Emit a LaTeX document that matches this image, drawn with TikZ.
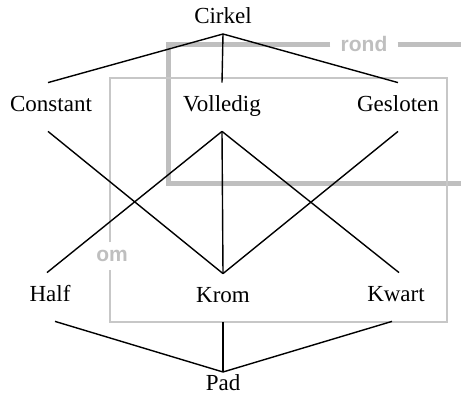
\documentclass[tikz,border=0pt]{standalone}
\usepackage{fontspec}
\setmainfont{Liberation Serif}
\newfontfamily\tagfont{Liberation Sans}
\begin{document}
\begin{tikzpicture}[x=0.5pt,y=-0.5pt]
    \tikzstyle{term}=[font=\fontsize{11.5}{13}\selectfont, inner sep=0pt, text height=14.5pt, text depth=9.5pt, anchor=base]
    \tikzstyle{root}=[font=\fontsize{11.5}{13}\selectfont, inner sep=5pt]
    \tikzstyle{tag}=[font=\tagfont\bfseries\fontsize{10.5}{12}\selectfont, text=black!25]
    \tikzstyle{rondline}=[line width=2.5pt, draw=black!25]
    \tikzstyle{omline}=[line width=1pt, draw=black!22]
    \tikzstyle{edge}=[line width=0.7pt]
    \useasboundingbox (0,0) rectangle (461,394);
    % grey boxes
    \node[tag, inner xsep=5pt, inner ysep=0pt] (rond) at (364,44) {rond};
    \node[tag, inner xsep=0pt, inner ysep=3.7pt] (om) at (112,256) {om};
    \coordinate (rtl) at (168,45);
    \coordinate (rbl) at (168,184);
    \coordinate (otl) at (110,78);
    \coordinate (obl) at (110,322);
    \draw[rondline] (rond.west |- rtl) -- (rtl) -- (rbl) -- (461,184);
    \draw[rondline] (rond.east |- rtl) -- (461,45);
    \draw[omline] (otl |- om.north) -- (otl) -- (447,78) -- (447,322) -- (obl) -- (obl |- om.south);
    % terms
    \node[root, anchor=south] (cirkel) at (223,34) {Cirkel};
    \node[term] (constant) at (51,112) {Constant};
    \node[term] (volledig) at (222,112) {Volledig};
    \node[term] (gesloten) at (398,112) {Gesloten};
    \node[term] (half) at (50,302) {Half};
    \node[term] (krom) at (223,303) {Krom};
    \node[term] (kwart) at (396,302) {Kwart};
    \node[root, inner ysep=1pt, anchor=north] (pad) at (223,372) {Pad};
    % lines
    \draw[edge] (cirkel.south) -- ([xshift=-1.5pt]constant.north);
    \draw[edge] (cirkel.south) -- (volledig.north);
    \draw[edge] (cirkel.south) -- (gesloten.north);
    \draw[edge] ([xshift=-1.5pt]constant.south) -- (krom.north);
    \draw[edge] (volledig.south) -- ([xshift=-1.5pt]half.north);
    \draw[edge] (volledig.south) -- (krom.north);
    \draw[edge] (volledig.south) -- ([xshift=1.5pt]kwart.north);
    \draw[edge] (gesloten.south) -- (krom.north);
    \draw[edge] ([xshift=2.5pt]half.south) -- (pad.north);
    \draw[edge] (krom.south) -- (pad.north);
    \draw[edge] ([xshift=-2pt]kwart.south) -- (pad.north);
\end{tikzpicture}
\end{document}
